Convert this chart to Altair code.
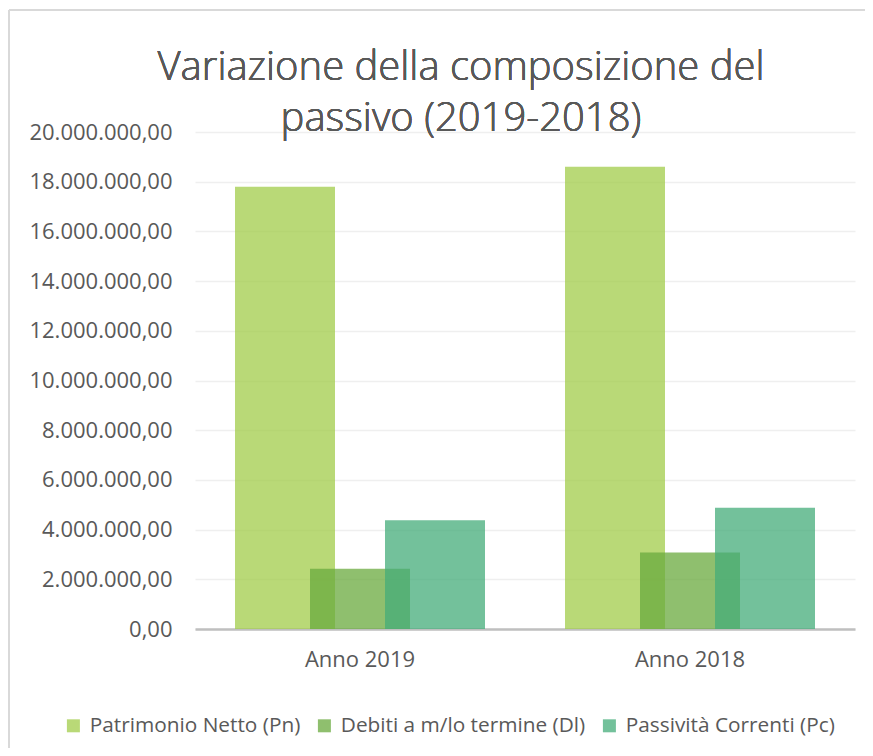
import altair as alt
import pandas as pd

titolo = ["Variazione della composizione del", "passivo (2019-2018)"]
anni = ["Anno 2019", "Anno 2018"]
serie = ["Patrimonio Netto (Pn)", "Debiti a m/lo termine (Dl)", "Passività Correnti (Pc)"]
pn = [17800000, 18600000]
dl = [2420000, 3080000]
pc = [4380000, 4880000]
y_ticks = [0, 2000000, 4000000, 6000000, 8000000, 10000000, 12000000, 14000000, 16000000, 18000000, 20000000]
colori = ["#A2CC4A", "#6AAA3E", "#44AC7A"]

rows = []
for i, a in enumerate(anni):
    for s, vals in zip(serie, [pn, dl, pc]):
        rows.append({"anno": a, "serie": s, "valore": vals[i]})
df = pd.DataFrame(rows)

W, H = 660, 497
PL, PT = 187, 124

bars = alt.Chart(df).mark_bar(size=100, opacity=0.75).encode(
    x=alt.X("anno:N", sort=anni, title=None,
            scale=alt.Scale(paddingInner=0, paddingOuter=0),
            axis=alt.Axis(labelAngle=0, ticks=False, labelPadding=20, labelFontSize=22,
                          labelColor="#595959", labelFont="Open Sans",
                          domainColor="#BFBFBF", domainWidth=2.5, grid=False)),
    xOffset=alt.XOffset("serie:N", sort=serie,
                        scale=alt.Scale(paddingInner=0, paddingOuter=0.7)),
    y=alt.Y("valore:Q", title=None,
            scale=alt.Scale(domain=[0, 20000000], nice=False),
            axis=alt.Axis(values=y_ticks, format=",.2f", ticks=False, domain=False,
                          labelPadding=23, labelFontSize=22, labelColor="#595959",
                          labelFont="Open Sans", gridColor="#EFEFEF", gridWidth=1.5)),
    color=alt.Color("serie:N", sort=serie,
                    scale=alt.Scale(domain=serie, range=colori),
                    legend=alt.Legend(title=None, orient="none", direction="horizontal",
                                      legendX=-132, legendY=583, symbolType="square",
                                      symbolSize=169, symbolOpacity=0.75, symbolStrokeWidth=0,
                                      labelFontSize=20.8, labelColor="#595959",
                                      labelFont="Open Sans", labelOffset=6, labelLimit=0,
                                      columnPadding=13)),
)

frame_top = alt.Chart(df).mark_rule(stroke="#D9D9D9", strokeWidth=1.5).encode(
    x=alt.value(-186), x2=alt.value(672), y=alt.value(-122)
)
frame_left = alt.Chart(df).mark_rule(stroke="#D9D9D9", strokeWidth=1.5).encode(
    x=alt.value(-186), y=alt.value(-122), y2=alt.value(620)
)

title = alt.Chart(df).mark_text(
    text=titolo, fontSize=40, lineHeight=51, font="Open Sans", fontWeight=300,
    color="#595959", align="center", baseline="alphabetic"
).encode(x=alt.value(266), y=alt.value(-52))

chart = alt.layer(frame_top, frame_left, bars, title).properties(
    width=W, height=H,
    padding={"left": PL, "top": PT, "right": 10, "bottom": 119},
    autosize=alt.AutoSizeParams(type="none"),
).configure(
    locale=alt.Locale(number=alt.NumberLocale(decimal=",", thousands=".", grouping=[3], currency=["€", ""]))
).configure_view(stroke=None)

chart.save("out.html", embed_options={"renderer": "svg", "actions": False})
